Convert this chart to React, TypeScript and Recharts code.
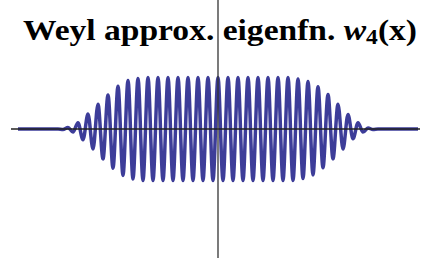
import React from "react";
import { LineChart, Line, XAxis, YAxis, ReferenceLine } from "recharts";

// positions in periods from the centre, extrema every half period
const waveX = [
  -20, -16, -15.5, -15, -14.5, -14, -13.5, -13, -12.5, -12, -11.5, -11, -10.5, -10,
  -9.5, -9, -8.5, -8, -7.5, -7, -6.5, -6, -5.5, -5, -4.5, -4, -3.5, -3, -2.5, -2,
  -1.5, -1, -0.5, 0, 0.5, 1, 1.5, 2, 2.5, 3, 3.5, 4, 4.5, 5, 5.5, 6, 6.5, 7, 7.5,
  8, 8.5, 9, 9.5, 10, 10.5, 11, 11.5, 12, 12.5, 13, 13.5, 14, 14.5, 15, 15.5, 16, 20,
];

const waveY = [
  0, 0, -0.01, 0.03, -0.06, 0.12, -0.21, 0.29, -0.39, 0.48, -0.58, 0.66, -0.76, 0.83,
  -0.9, 0.94, -0.97, 0.98, -1.0, 1.0, -1.0, 1.0, -1.0, 1.0, -1.0, 1.0, -1.0, 1.0, -1.0, 1.0,
  -1.0, 1.0, -1.0, 1.0, -1.0, 1.0, -1.0, 1.0, -1.0, 1.0, -1.0, 1.0, -1.0, 1.0, -1.0, 1.0, -1.0, 1.0, -1.0,
  0.97, -0.96, 0.92, -0.89, 0.82, -0.75, 0.67, -0.58, 0.48, -0.39, 0.28, -0.19, 0.12, -0.06, 0.02, -0.01, 0, 0,
];

const xDomain = [-20.7, 20.2];
const yDomain = [-2.5, 2.5];

const data = waveX.map((x, i) => ({ x, w: waveY[i] }));

export default function App() {
  return (
    <div style={{ position: "absolute", left: 0, top: 0, width: 421, height: 260, background: "#fff" }}>
      <LineChart width={421} height={260} data={data} margin={{ top: 0, right: 1, bottom: 2, left: 11 }}>
        <XAxis type="number" dataKey="x" domain={xDomain} hide />
        <YAxis type="number" domain={yDomain} hide />
        <Line
          type="monotone"
          dataKey="w"
          stroke="#3d3d99"
          strokeWidth={3.5}
          dot={false}
          isAnimationActive={false}
        />
        <ReferenceLine y={0} stroke="#222" strokeWidth={1.3} />
        <ReferenceLine x={0} stroke="#333" strokeWidth={1.3} />
      </LineChart>

      {/* title sits above the plot, stretched to fit like the original */}
      <svg width={421} height={60} style={{ position: "absolute", left: 0, top: 0 }}>
        <text
          x={23}
          y={39.5}
          textLength={394}
          lengthAdjust="spacingAndGlyphs"
          fontFamily="'Liberation Serif', 'Times New Roman', serif"
          fontWeight="bold"
          fontSize={28.5}
          fill="#000"
        >
          Weyl approx. eigenfn.{" "}
          <tspan fontStyle="italic">w</tspan>
          <tspan fontSize={20} dy={4}>4</tspan>
          <tspan dy={-4}>(x)</tspan>
        </text>
      </svg>
    </div>
  );
}
